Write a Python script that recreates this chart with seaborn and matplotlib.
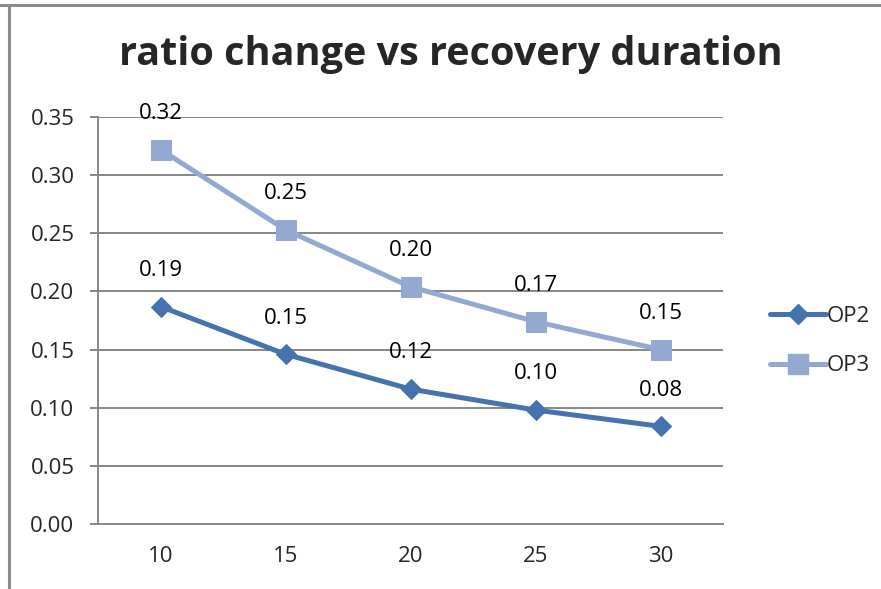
import matplotlib
matplotlib.use("Agg")
import matplotlib.pyplot as plt
import seaborn as sns
import pandas as pd
from matplotlib.lines import Line2D

# Recovery duration categories and ratio change per option
durations = ["10", "15", "20", "25", "30"]
op2 = [0.187, 0.146, 0.116, 0.098, 0.084]
op3 = [0.322, 0.253, 0.204, 0.174, 0.150]
series_names = ["OP2", "OP3"]
y_ticks = [0.00, 0.05, 0.10, 0.15, 0.20, 0.25, 0.30, 0.35]

colors = {"OP2": "#4672AE", "OP3": "#93A9D2"}
markers = {"OP2": "D", "OP3": "s"}
msizes = {"OP2": 10, "OP3": 14}
LW = 3.6
FS = 16

sns.set_theme(style="white")
plt.rcParams["font.family"] = ["Open Sans", "DejaVu Sans"]

rows = []
for i, d in enumerate(durations):
    rows.append({"pos": i, "duration": d, "series": "OP2", "ratio": op2[i]})
    rows.append({"pos": i, "duration": d, "series": "OP3", "ratio": op3[i]})
df = pd.DataFrame(rows)

fig = plt.figure(figsize=(8.81, 5.89), dpi=100)
ax = fig.add_axes([98 / 881, 65 / 589, 625 / 881, 407 / 589])

grid_color = "#878787"
for t in y_ticks[1:]:
    ax.axhline(t, color=grid_color, lw=1.4, zorder=0)

for name in series_names:
    sub = df[df["series"] == name]
    sns.lineplot(data=sub, x="pos", y="ratio", ax=ax, color=colors[name],
                 lw=LW, marker=markers[name], markersize=msizes[name],
                 markeredgecolor=colors[name], legend=False, zorder=3)
    for x, y in zip(sub["pos"], sub["ratio"]):
        ax.annotate(f"{y:.2f}", (x, y), xytext=(0, 26), textcoords="offset points",
                    ha="center", va="center", fontsize=FS, color="black")

ax.set_xlim(-0.5, len(durations) - 0.5)
ax.set_ylim(0, 0.35)
ax.set_yticks(y_ticks)
ax.set_yticklabels([f"{t:.2f}" for t in y_ticks])
ax.set_xticks(range(len(durations)))
ax.set_xticklabels(durations)
ax.set_xticks([i - 0.5 for i in range(len(durations) + 1)], minor=True)
ax.tick_params(axis="x", which="major", length=0, pad=16, labelsize=FS)
ax.tick_params(axis="x", which="minor", length=6, width=1.4, color=grid_color, direction="out")
ax.tick_params(axis="y", length=6, width=1.4, color=grid_color, direction="out",
               pad=11, labelsize=FS)
ax.tick_params(axis="both", bottom=True, left=True)
ax.set_xlabel("")
ax.set_ylabel("")
for s in ["top", "right"]:
    ax.spines[s].set_visible(False)
for s in ["left", "bottom"]:
    ax.spines[s].set_color(grid_color)
    ax.spines[s].set_linewidth(1.4)

handles = [Line2D([0], [0], color=colors[n], lw=LW, marker=markers[n],
                  markersize=msizes[n], markeredgecolor=colors[n])
           for n in series_names]
fig.legend(handles, series_names, loc="center left", bbox_to_anchor=(750 / 881, 1 - 341 / 589),
           frameon=False, fontsize=FS, handlelength=2.5, handletextpad=0.05,
           labelspacing=1.3)

fig.text(451 / 881, 1 - 55 / 589, "ratio change vs recovery duration",
         ha="center", va="center", fontsize=28.5, fontweight="bold")

# outer chart frame
fig.add_artist(Line2D([0, 1], [1 - 4.5 / 589] * 2, color="#8C8C8C", lw=2.2,
                      transform=fig.transFigure))
fig.add_artist(Line2D([8.5 / 881] * 2, [0, 1 - 4.5 / 589], color="#8C8C8C", lw=2.2,
                      transform=fig.transFigure))

fig.savefig("out.png", dpi=100, facecolor="white")
